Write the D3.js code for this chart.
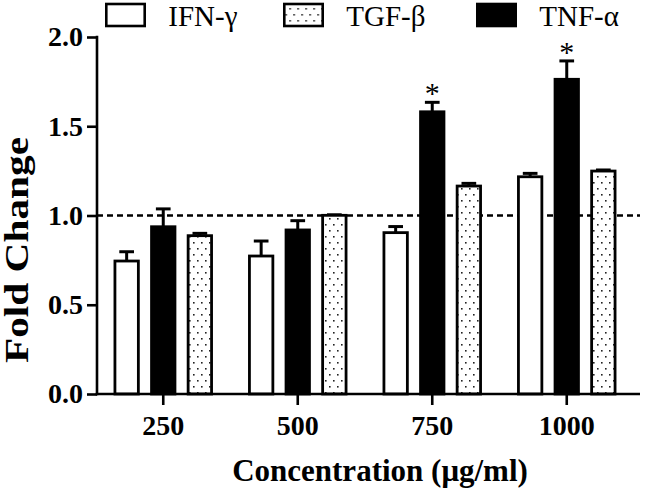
<!DOCTYPE html>
<html>
<head>
<meta charset="utf-8">
<script src="https://cdn.jsdelivr.net/npm/d3@7"></script>
<style>
  html, body { margin: 0; padding: 0; background: #fff; }
  svg { display: block; }
</style>
</head>
<body>
<div id="chart"></div>
<script>
// ---- data ----
const categories = ["250", "500", "750", "1000"];
const seriesOrder = ["IFN-γ", "TNF-α", "TGF-β"];      // bar order within a group
const legendOrder = ["IFN-γ", "TGF-β", "TNF-α"];      // legend order
const ifnValues = [0.745, 0.773, 0.904, 1.217];
const ifnErrors = [0.052, 0.084, 0.034, 0.019];
const tnfValues = [0.937, 0.919, 1.581, 1.763];
const tnfErrors = [0.100, 0.052, 0.053, 0.103];
const tgfValues = [0.887, 1.001, 1.165, 1.249];
const tgfErrors = [0.013, 0.003, 0.015, 0.006];
const tnfSignificance = ["", "", "*", "*"];
const yTicks = [0, 0.5, 1.0, 1.5, 2.0];
const referenceLine = 1.0;

const seriesData = {
  "IFN-γ": { values: ifnValues, errors: ifnErrors, sig: ["", "", "", ""] },
  "TNF-α": { values: tnfValues, errors: tnfErrors, sig: tnfSignificance },
  "TGF-β": { values: tgfValues, errors: tgfErrors, sig: ["", "", "", ""] }
};

// ---- layout ----
const W = 646, H = 491;
const axisX = 97, axisY = 394, topY = 37, rightX = 640;

const svg = d3.select("#chart").append("svg")
  .attr("width", W).attr("height", H)
  .style("font-family", "'Liberation Serif', 'Times New Roman', serif");

const defs = svg.append("defs");
const pat = defs.append("pattern")
  .attr("id", "dots").attr("patternUnits", "userSpaceOnUse")
  .attr("width", 8).attr("height", 12);
pat.append("rect").attr("width", 8).attr("height", 12).attr("fill", "#fff");
pat.append("rect").attr("x", 1).attr("y", 2).attr("width", 1.6).attr("height", 1.6).attr("fill", "#222");
pat.append("rect").attr("x", 5).attr("y", 8).attr("width", 1.6).attr("height", 1.6).attr("fill", "#222");

const fills = { "IFN-γ": "#fff", "TNF-α": "#000", "TGF-β": "url(#dots)" };

const x0 = d3.scaleBand().domain(categories).range([96, 634]).padding(0);
const x1 = d3.scaleBand().domain(seriesOrder).range([0, x0.bandwidth()])
  .paddingInner(0.36).paddingOuter(0.5175);
const y = d3.scaleLinear().domain([0, 2.0]).range([axisY, topY]);

// reference dashed line
svg.append("line")
  .attr("x1", axisX).attr("x2", rightX)
  .attr("y1", y(referenceLine)).attr("y2", y(referenceLine))
  .attr("stroke", "#000").attr("stroke-width", 2.6)
  .attr("stroke-dasharray", "6,4");

// bars
const flat = [];
categories.forEach((c, i) => {
  seriesOrder.forEach(s => {
    flat.push({ cat: c, series: s, value: seriesData[s].values[i], err: seriesData[s].errors[i], sig: seriesData[s].sig[i] });
  });
});

const g = svg.append("g");
const capW = 14.7;
g.selectAll(".errv").data(flat).join("line")
  .attr("x1", d => x0(d.cat) + x1(d.series) + x1.bandwidth() / 2)
  .attr("x2", d => x0(d.cat) + x1(d.series) + x1.bandwidth() / 2)
  .attr("y1", d => y(d.value))
  .attr("y2", d => y(d.value + d.err))
  .attr("stroke", "#000").attr("stroke-width", 3);
g.selectAll(".errc").data(flat).join("line")
  .attr("x1", d => x0(d.cat) + x1(d.series) + x1.bandwidth() / 2 - capW / 2)
  .attr("x2", d => x0(d.cat) + x1(d.series) + x1.bandwidth() / 2 + capW / 2)
  .attr("y1", d => y(d.value + d.err))
  .attr("y2", d => y(d.value + d.err))
  .attr("stroke", "#000").attr("stroke-width", 3);

g.selectAll(".bar").data(flat).join("rect")
  .attr("x", d => x0(d.cat) + x1(d.series))
  .attr("width", x1.bandwidth())
  .attr("y", d => y(d.value))
  .attr("height", d => y(0) - y(d.value))
  .attr("fill", d => fills[d.series])
  .attr("stroke", "#000").attr("stroke-width", 2.8);

// significance stars
g.selectAll(".sig").data(flat.filter(d => d.sig)).join("text")
  .attr("x", d => x0(d.cat) + x1(d.series) + x1.bandwidth() / 2)
  .attr("y", d => y(d.value + d.err) + 1)
  .attr("text-anchor", "middle")
  .style("font-size", "30px")
  .text(d => d.sig);

// axes
const yAxis = d3.axisLeft(y).tickValues(yTicks).tickFormat(d3.format(".1f"))
  .tickSize(10).tickPadding(4);
const yg = svg.append("g").attr("transform", `translate(${axisX},0)`).call(yAxis);
yg.select(".domain").remove();
yg.selectAll(".tick line").attr("stroke", "#000").attr("stroke-width", 2.6);
yg.selectAll(".tick text").style("font-family", "'Liberation Serif', serif")
  .style("font-weight", "bold").style("font-size", "28px").attr("fill", "#000");
svg.append("line").attr("x1", axisX).attr("x2", axisX)
  .attr("y1", topY - 1.3).attr("y2", axisY + 1.3)
  .attr("stroke", "#000").attr("stroke-width", 2.6);

const xAxis = d3.axisBottom(x0).tickSize(11).tickPadding(10);
const xg = svg.append("g").attr("transform", `translate(0,${axisY})`).call(xAxis);
xg.select(".domain").remove();
xg.selectAll(".tick line").attr("stroke", "#000").attr("stroke-width", 2.6);
xg.selectAll(".tick text").style("font-family", "'Liberation Serif', serif")
  .style("font-weight", "bold").style("font-size", "28px").attr("fill", "#000");
svg.append("line").attr("x1", axisX - 1.3).attr("x2", rightX)
  .attr("y1", axisY).attr("y2", axisY)
  .attr("stroke", "#000").attr("stroke-width", 2.6);

// axis titles
svg.append("text")
  .attr("x", 380).attr("y", 481)
  .attr("text-anchor", "middle")
  .style("font-weight", "bold").style("font-size", "31px")
  .text("Concentration (μg/ml)");
svg.append("text")
  .attr("transform", "translate(28,250) rotate(-90)")
  .attr("text-anchor", "middle")
  .attr("textLength", 226)
  .attr("lengthAdjust", "spacingAndGlyphs")
  .style("font-weight", "bold").style("font-size", "33px")
  .text("Fold Change");

// legend
const legendBoxX = [106.3, 284.3, 477.3];
const lg = svg.append("g").selectAll("g").data(legendOrder).join("g")
  .attr("transform", (d, i) => `translate(${legendBoxX[i]},0)`);
lg.append("rect").attr("x", 0).attr("y", 4).attr("width", 38.4).attr("height", 22)
  .attr("fill", d => fills[d]).attr("stroke", "#000").attr("stroke-width", 2.6);
lg.append("text").attr("x", 62).attr("y", 26)
  .style("font-size", "29px")
  .text(d => d);
</script>
</body>
</html>
